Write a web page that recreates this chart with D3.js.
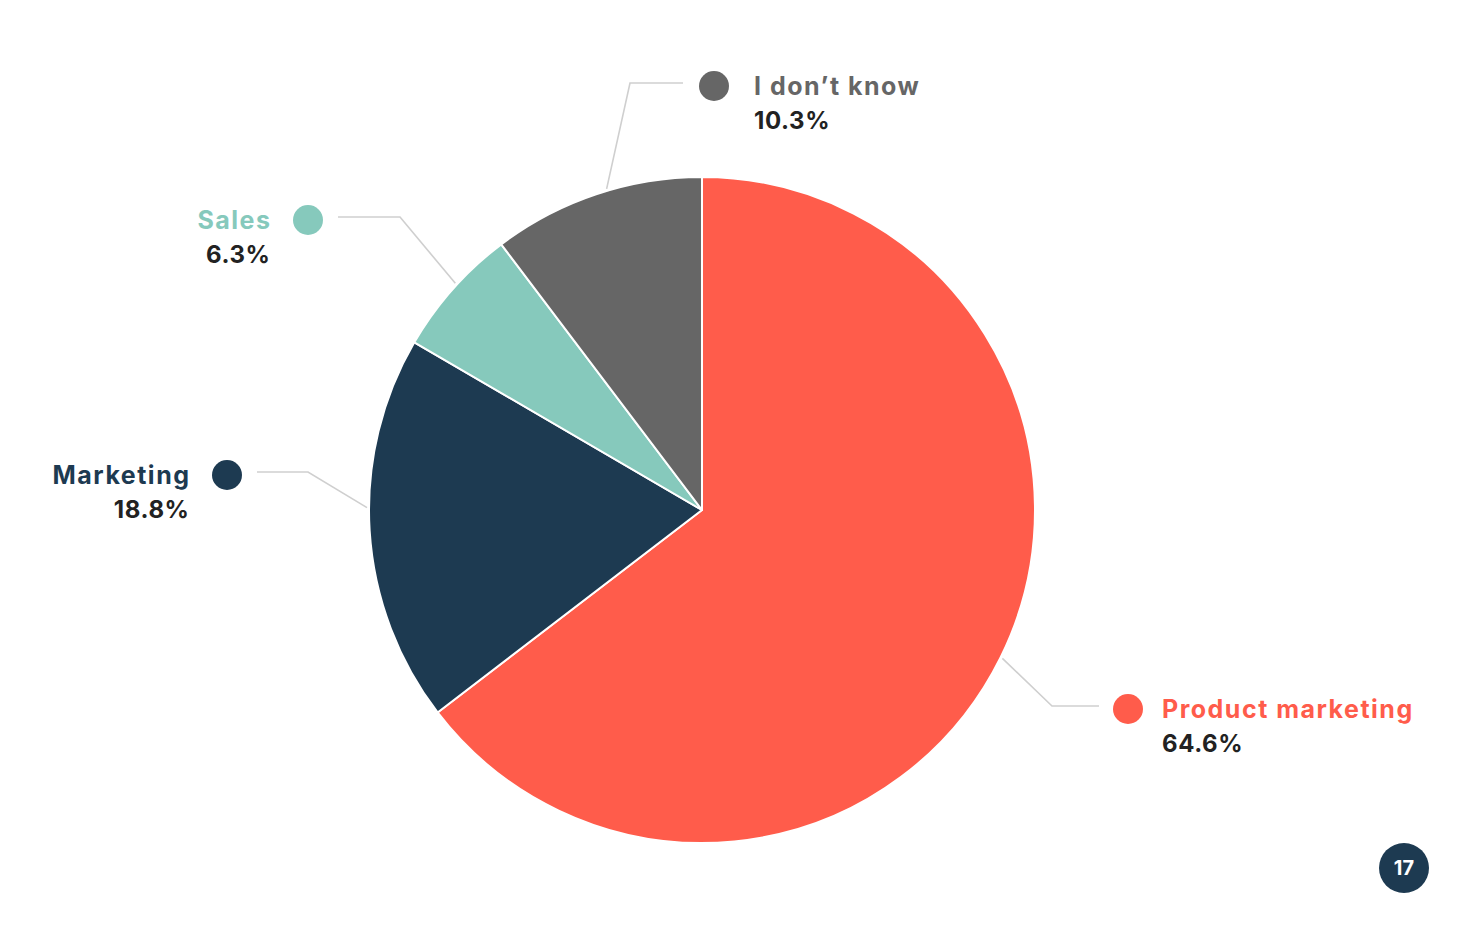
<!DOCTYPE html>
<html>
<head>
<meta charset="utf-8">
<script src="https://cdn.jsdelivr.net/npm/d3@7"></script>
<style>
  html, body { margin: 0; padding: 0; background: #ffffff; }
  svg { display: block; }
  text { font-family: Inter, "Open Sans", sans-serif; font-weight: 700; }
</style>
</head>
<body>
<svg id="chart" width="1470" height="928"></svg>
<script>
// ---- data ----
const categories = ["Product marketing", "Marketing", "Sales", "I don\u2019t know"];
const values = [64.6, 18.8, 6.3, 10.3];
const colors = ["#FF5C4B", "#1D3A51", "#86C9BC", "#666666"];
const labelColors = ["#FF5C4B", "#1D3A51", "#86C9BC", "#666666"];
const pageNumber = "17";

// ---- layout ----
const W = 1470, H = 928;
const cx = 702, cy = 510, R = 333;
// label layout: dot position, text side, leader elbow, angle nudge (deg)
const labelLayout = [
  { dot: [1128, 709], side: "right", elbowX: 1052, lineEnd: 1099, nudge: 0, gap: 34 },
  { dot: [227, 475],  side: "left",  elbowX: 308,  lineEnd: 257,  nudge: 4, gap: 38 },
  { dot: [308, 220],  side: "left",  elbowX: 400,  lineEnd: 338,  nudge: 1, gap: 38 },
  { dot: [714, 86],   side: "right", elbowX: 630,  lineEnd: 683,  nudge: 2, gap: 40 }
];

const svg = d3.select("#chart");
const g = svg.append("g").attr("transform", `translate(${cx},${cy})`);

const data = categories.map((c, i) => ({ name: c, value: values[i], color: colors[i], i }));
const pie = d3.pie().sort(null).value(d => d.value);
const arcs = pie(data);
const arc = d3.arc().innerRadius(0).outerRadius(R);

g.selectAll("path.slice")
  .data(arcs)
  .join("path")
  .attr("class", "slice")
  .attr("d", arc)
  .attr("fill", d => d.data.color)
  .attr("stroke", "#ffffff")
  .attr("stroke-width", 2)
  .attr("stroke-linejoin", "round");

// leaders + labels
arcs.forEach((a, i) => {
  const L = labelLayout[i];
  const ang = (a.startAngle + a.endAngle) / 2 + L.nudge * Math.PI / 180;
  const sx = cx + Math.sin(ang) * (R + 2);
  const sy = cy - Math.cos(ang) * (R + 2);
  const ly = L.dot[1] - 3;
  svg.append("polyline")
    .attr("points", `${sx},${sy} ${L.elbowX},${ly} ${L.lineEnd},${ly}`)
    .attr("fill", "none")
    .attr("stroke", "#cfcfcf")
    .attr("stroke-width", 1.6);
  svg.append("circle")
    .attr("cx", L.dot[0]).attr("cy", L.dot[1]).attr("r", 15)
    .attr("fill", a.data.color);
  const right = L.side === "right";
  const tx = right ? L.dot[0] + L.gap : L.dot[0] - L.gap;
  const anchor = right ? "start" : "end";
  svg.append("text")
    .attr("x", tx + (right ? 0 : 1.5)).attr("y", L.dot[1] + 9)
    .attr("text-anchor", anchor)
    .attr("font-size", 25)
    .attr("letter-spacing", 1.5)
    .attr("fill", labelColors[i])
    .text(a.data.name);
  svg.append("text")
    .attr("x", tx + (right ? 0 : 0.6)).attr("y", L.dot[1] + 43)
    .attr("text-anchor", anchor)
    .attr("font-size", 24)
    .attr("letter-spacing", 0.6)
    .attr("fill", "#222222")
    .text(d3.format(".1f")(a.data.value) + "%");
});

// page badge
svg.append("circle").attr("cx", 1404).attr("cy", 868).attr("r", 25).attr("fill", "#1D3A51");
svg.append("text").attr("x", 1404).attr("y", 875)
  .attr("text-anchor", "middle").attr("font-size", 20).attr("fill", "#ffffff")
  .text(pageNumber);
</script>
</body>
</html>
